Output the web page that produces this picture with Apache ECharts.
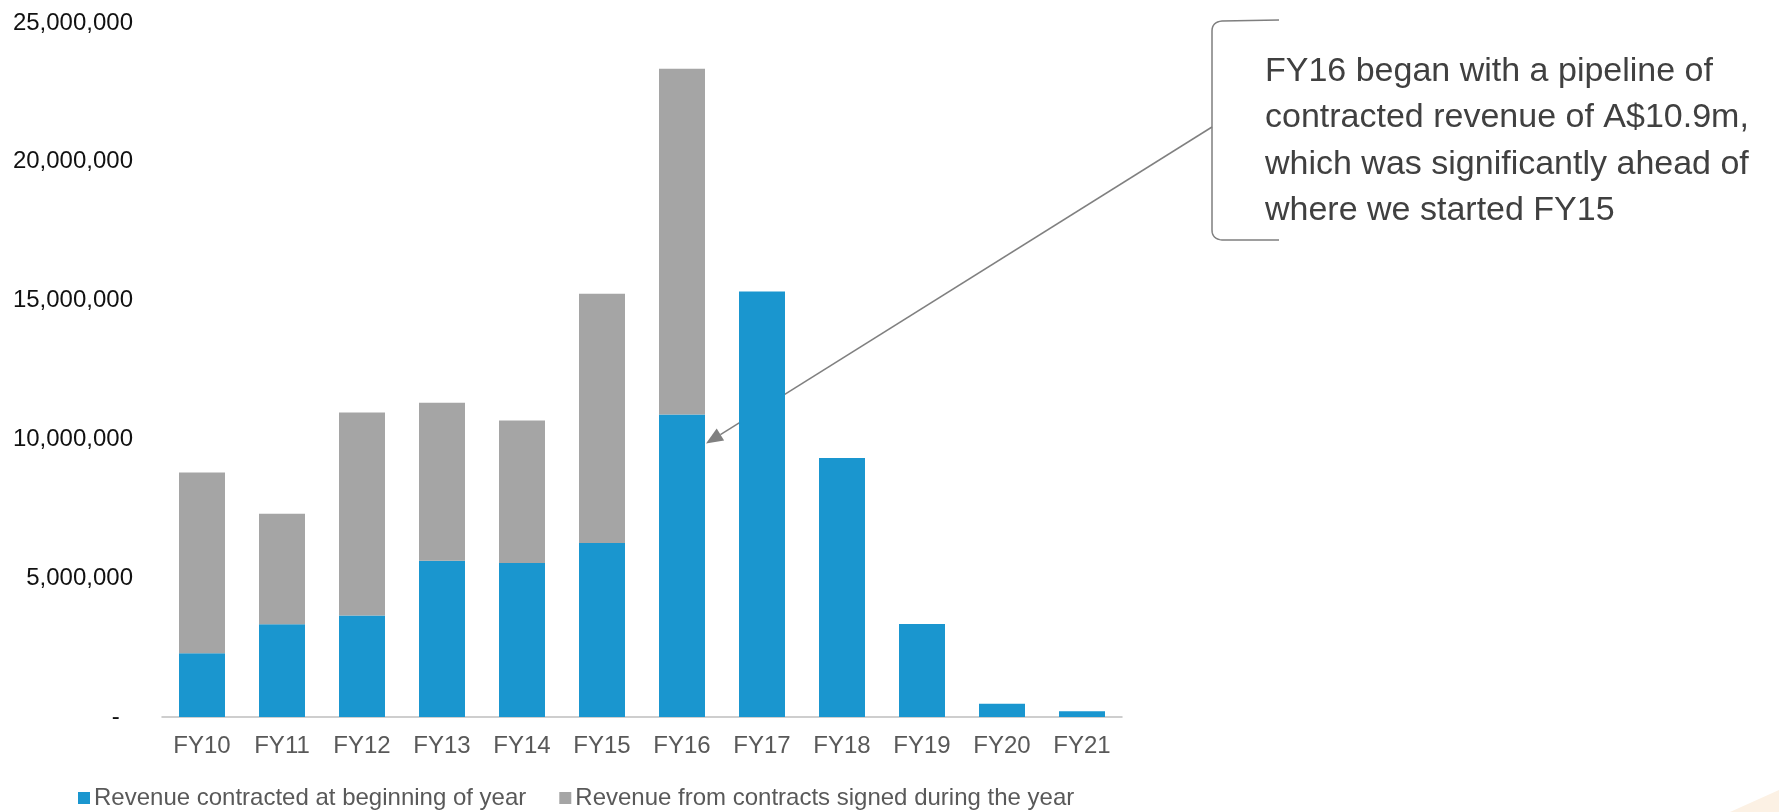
<!DOCTYPE html>
<html>
<head>
<meta charset="utf-8">
<title>Contracted revenue pipeline FY10–FY21</title>
<script src="https://cdn.jsdelivr.net/npm/echarts@6/dist/echarts.min.js"></script>
<style>
  html, body { margin: 0; padding: 0; background: #ffffff; }
  #chart { width: 1779px; height: 812px; }
</style>
</head>
<body>
<div id="chart"></div>
<script>
// Financial years on the category axis
const categories = ['FY10', 'FY11', 'FY12', 'FY13', 'FY14', 'FY15', 'FY16', 'FY17', 'FY18', 'FY19', 'FY20', 'FY21'];

// Revenue already contracted when each year began (A$)
const contractedAtStart = [2300000, 3340000, 3660000, 5630000, 5550000, 6270000, 10900000, 15330000, 9330000, 3350000, 480000, 210000];

// Revenue from contracts signed during the year (A$), stacked on top
const signedDuringYear = [6510000, 3980000, 7310000, 5690000, 5130000, 8980000, 12450000, null, null, null, null, null];

// Value axis ticks
const yMin = 0;
const yMax = 25000000;
const yStep = 5000000;

const seriesNames = ['Revenue contracted at beginning of year', 'Revenue from contracts signed during the year'];

const noteLines = [
  'FY16 began with a pipeline of',
  'contracted revenue of A$10.9m,',
  'which was significantly ahead of',
  'where we started FY15'
];

const FONT = '"Liberation Sans", Arial, Helvetica, sans-serif';
const BLUE = '#1a96cf';
const GREY = '#a5a5a5';
const BAR_W = 46;

const chart = echarts.init(document.getElementById('chart'), null, { renderer: 'canvas' });

const option = {
  animation: false,
  backgroundColor: '#ffffff',
  textStyle: { fontFamily: FONT },
  grid: { left: 162, right: 657, top: 23, bottom: 95, containLabel: false },
  legend: {
    left: 78,
    top: 786,
    padding: 0,
    icon: 'rect',
    itemWidth: 12,
    itemHeight: 12,
    itemGap: 33,
    selectedMode: false,
    textStyle: { fontFamily: FONT, fontSize: 24, color: '#595959', padding: [0, 0, 0, -1] },
    data: seriesNames
  },
  xAxis: {
    type: 'category',
    data: categories,
    axisLine: { show: true, lineStyle: { color: '#bfbfbf', width: 1.5 } },
    axisTick: { show: false },
    splitLine: { show: false },
    axisLabel: { fontFamily: FONT, fontSize: 24, color: '#595959', margin: 17 }
  },
  yAxis: {
    type: 'value',
    min: yMin,
    max: yMax,
    interval: yStep,
    axisLine: { show: false },
    axisTick: { show: false },
    splitLine: { show: false },
    axisLabel: {
      fontFamily: FONT,
      fontSize: 24,
      color: '#111111',
      margin: 29,
      formatter: function (v) {
        return v === 0 ? '-  ' : v.toLocaleString('en-US');
      }
    }
  },
  series: [
    {
      name: seriesNames[0],
      type: 'bar',
      stack: 'revenue',
      barWidth: BAR_W,
      itemStyle: { color: BLUE },
      emphasis: { disabled: true },
      data: contractedAtStart
    },
    {
      name: seriesNames[1],
      type: 'bar',
      stack: 'revenue',
      barWidth: BAR_W,
      itemStyle: { color: GREY },
      emphasis: { disabled: true },
      data: signedDuringYear
    }
  ]
};

chart.setOption(option);

// Sample a quadratic curve into polyline points
function quad(p0, c, p1, n) {
  const pts = [];
  for (let i = 0; i <= n; i++) {
    const t = i / n, a = (1 - t) * (1 - t), b = 2 * (1 - t) * t, d = t * t;
    pts.push([a * p0[0] + b * c[0] + d * p1[0], a * p0[1] + b * c[1] + d * p1[1]]);
  }
  return pts;
}

// Call-out: left bracket around the note, with a pointer to the FY16 opening pipeline
const bx = 1212, bTop = 20, bBot = 240, bEnd = 1279;
const bracketPts = []
  .concat([[bEnd, bTop]])
  .concat(quad([1222, bTop + 1], [bx, bTop + 2], [bx, bTop + 11], 8))
  .concat(quad([bx, bBot - 10], [bx, bBot - 1], [1222, bBot], 8))
  .concat([[bEnd, bBot]]);

const fy16 = categories.indexOf('FY16');
const tipPt = chart.convertToPixel({ seriesIndex: 0 }, [fy16, contractedAtStart[fy16] - 1050000]);
const tipX = tipPt[0] + BAR_W / 2 + 1;
const tipY = tipPt[1];
const startX = bx, startY = 127;

const dx = startX - tipX, dy = startY - tipY;
const len = Math.sqrt(dx * dx + dy * dy);
const ux = dx / len, uy = dy / len;
const headLen = 17, headHalf = 7;
const baseX = tipX + ux * headLen, baseY = tipY + uy * headLen;

chart.setOption({
  graphic: [
    {
      type: 'polyline',
      silent: true,
      shape: { points: bracketPts },
      style: { fill: null, stroke: '#7f7f7f', lineWidth: 1.5 }
    },
    {
      type: 'line',
      silent: true,
      shape: { x1: startX, y1: startY, x2: baseX, y2: baseY },
      style: { stroke: '#808080', lineWidth: 1.5 }
    },
    {
      type: 'polygon',
      silent: true,
      shape: {
        points: [
          [tipX, tipY],
          [baseX - uy * headHalf, baseY + ux * headHalf],
          [baseX + uy * headHalf, baseY - ux * headHalf]
        ]
      },
      style: { fill: '#808080' }
    },
    {
      type: 'text',
      silent: true,
      x: 1265,
      y: 48,
      style: {
        text: noteLines.join('\n'),
        font: '34px ' + FONT,
        fill: '#404040',
        lineHeight: 46.5,
        verticalAlign: 'top'
      }
    },
    {
      type: 'polygon',
      silent: true,
      shape: { points: [[1730, 812], [1779, 790], [1779, 812]] },
      style: { fill: '#fcf1e4' }
    }
  ]
});
</script>
</body>
</html>
